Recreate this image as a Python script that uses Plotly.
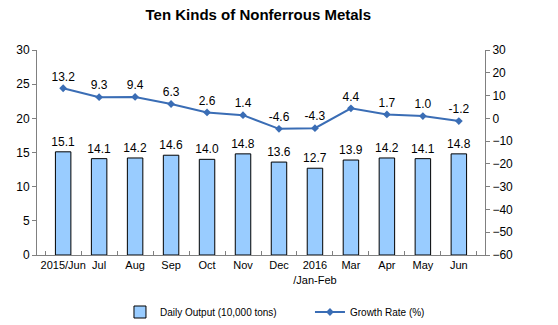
import plotly.graph_objects as go

categories = ["2015/Jun", "Jul", "Aug", "Sep", "Oct", "Nov", "Dec", "2016<br>/Jan-Feb", "Mar", "Apr", "May", "Jun"]
daily_output = [15.1, 14.1, 14.2, 14.6, 14.0, 14.8, 13.6, 12.7, 13.9, 14.2, 14.1, 14.8]
growth_rate = [13.2, 9.3, 9.4, 6.3, 2.6, 1.4, -4.6, -4.3, 4.4, 1.7, 1.0, -1.2]

font = "Liberation Sans, Arial, sans-serif"

fig = go.Figure()
fig.add_trace(go.Bar(
    x=categories, y=daily_output, name="Daily Output (10,000 tons)",
    marker=dict(color="#99CCFF", line=dict(color="#000000", width=1)),
    width=0.43,
    text=[f"{v:.1f}" for v in daily_output], textposition="outside",
    constraintext="none",
    textfont=dict(size=12, color="#000"), cliponaxis=False,
))
fig.add_trace(go.Scatter(
    x=categories, y=growth_rate, name="Growth Rate (%)", yaxis="y2",
    mode="lines+markers+text",
    line=dict(color="#3A6DB5", width=2),
    marker=dict(symbol="diamond", size=6, color="#3A6DB5"),
    text=[f"{v:.1f}" for v in growth_rate], textposition="top center",
    textfont=dict(size=12, color="#000"), cliponaxis=False,
))

fig.update_layout(
    width=558, height=325,
    margin=dict(l=37, r=73, t=50, b=70, autoexpand=False),
    paper_bgcolor="white", plot_bgcolor="white",
    font=dict(family=font, size=12, color="#000"),
    title=dict(text="<b>Ten Kinds of Nonferrous Metals</b>", x=0.463, xanchor="center",
               y=0.955, yanchor="middle", font=dict(size=15, family=font)),
    showlegend=True,
    legend=dict(orientation="h", xref="container", yref="container",
                x=0.215, y=0.04, xanchor="left", yanchor="middle",
                font=dict(size=10), itemwidth=30, tracegroupgap=0,
                entrywidth=145, entrywidthmode="pixels"),
    xaxis=dict(showline=True, linecolor="#808080", ticks="inside", tickson="boundaries",
               ticklen=4, tickcolor="#808080", tickfont=dict(size=11), tickangle=0,
               showgrid=False),
    yaxis=dict(range=[0, 30], dtick=5, showline=True, linecolor="#808080", ticks="outside",
               ticklen=4, tickcolor="#808080", showgrid=False, zeroline=False,
               tickfont=dict(size=12)),
    yaxis2=dict(range=[-60, 30], dtick=10, overlaying="y", side="right", showline=True,
                linecolor="#808080", ticks="outside", ticklen=4, tickcolor="#808080",
                showgrid=False, zeroline=False, tickfont=dict(size=12)),
)

fig.write_html("out.html")
